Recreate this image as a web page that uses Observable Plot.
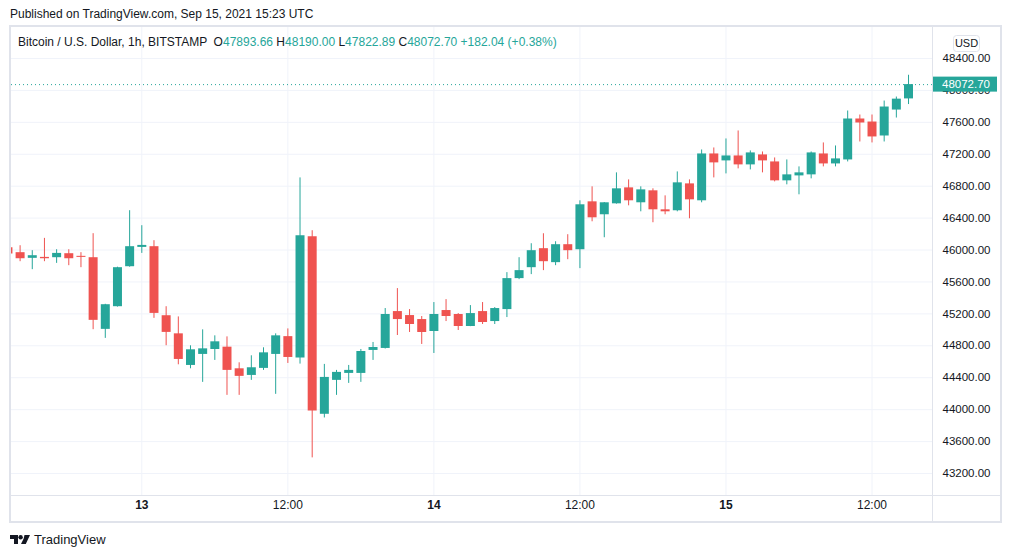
<!DOCTYPE html>
<html><head><meta charset="utf-8">
<script src="https://cdn.jsdelivr.net/npm/d3@7"></script>
<script src="https://cdn.jsdelivr.net/npm/@observablehq/plot@0.6"></script>
<style>
html,body{margin:0;padding:0;background:#fff;}
body{width:1012px;height:558px;position:relative;overflow:hidden;font-family:"Liberation Sans",Arial,sans-serif;color:#131722;}
#pub{position:absolute;left:10px;top:7px;font-size:12px;line-height:14px;white-space:pre;}
#frame{position:absolute;left:9px;top:25px;width:993px;height:498px;border:2px solid #e0e3eb;box-sizing:border-box;}
#chart{position:absolute;left:0;top:0;}
#legend{position:absolute;left:7px;top:8px;font-size:12px;line-height:14px;white-space:pre;}
#legend .v{color:#26a69a;}
#logo{position:absolute;left:10px;top:531px;height:16px;display:flex;align-items:center;font-size:13px;}
#logo svg{margin-right:4px;}
</style></head><body>
<div id="pub">Published on TradingView.com, Sep 15, 2021 15:23 UTC</div>
<div id="frame"><div id="chart"></div><div id="legend"></div></div>
<div id="logo"><svg width="20" height="9" viewBox="0 0 20 9"><path d="M0 0h8v9h-4v-5h-4z" fill="#131722"/><circle cx="10.6" cy="2.2" r="2.2" fill="#131722"/><path d="M14.5 0h5.5l-4.2 9h-4.8l2.6-5.2z" fill="#131722"/></svg><span>TradingView</span></div>
<script>
// ---- data (BTC/USD, 1h candles, BITSTAMP) ----
const firstCandleUTC = Date.UTC(2021, 8, 12, 13); // Sep 12 13:00 UTC
const opens = [46030,45967,45896,45908,45904,45954,45921,45904,45006,45290,45791,
  46033,46042,45177,44950,44554,44692,44754,44783,44512,44429,
  44517,44692,44915,44646,46167,43942,44367,44454,44454,44742,
  44767,45229,45179,45129,44979,45242,45192,45042,45229,45104,
  45254,45642,45779,46017,45842,46067,46004,46604,46442,46579,
  46779,46592,46742,46504,46492,46829,46617,47204,47117,47179,
  47067,47192,47104,46867,46929,46942,47204,47079,47129,47642,
  47604,47429,47754,47893.66];
const highs = [46060,46054,45992,46146,46004,46004,45967,46205,45320,45785,46493,
  46305,46117,45290,45162,44800,45000,44925,44912,44587,44675,
  44775,44950,45012,46904,46242,44567,44492,44554,44754,44842,
  45267,45517,45254,45167,45342,45379,45204,45304,45342,45279,
  45717,45904,46079,46204,46104,46192,46617,46792,46595,46967,
  46879,46792,46767,46679,46979,46879,47254,47279,47392,47492,
  47242,47229,47154,47129,47042,47229,47342,47304,47742,47692,
  47692,47867,47917,48190.00];
const lows = [45930,45854,45754,45854,45833,45804,45779,45002,44893,45285,45785,
  45958,45144,44801,44562,44512,44342,44617,44179,44179,44367,
  44492,44192,44579,44571,43396,43896,44179,44329,44342,44617,
  44760,44929,44967,44817,44704,45104,44992,45040,45067,45067,
  45154,45629,45692,45742,45804,45879,45767,46354,46154,46575,
  46554,46479,46342,46442,46479,46392,46592,46904,46954,47017,
  47004,46967,46854,46817,46692,46892,47042,47042,47104,47354,
  47342,47354,47654,47822.89];
const closes = [45950,45891,45929,45891,45958,45891,45908,45119,45315,45779,46042,
  46058,45206,44968,44629,44750,44762,44850,44492,44417,44525,
  44712,44925,44654,46179,43983,44404,44467,44492,44729,44779,
  45192,45129,45067,44967,45192,45167,45042,45204,45092,45267,
  45642,45742,45992,45854,46067,45992,46567,46404,46592,46767,
  46617,46754,46504,46479,46842,46629,47204,47092,47179,47067,
  47217,47117,46867,46942,46967,47217,47079,47142,47642,47592,
  47417,47792,47890.66,48072.70];
const priceTicks = [43200,43600,44000,44400,44800,45200,45600,46000,46400,46800,47200,47600,48000,48400];
const dayTicks = [Date.UTC(2021,8,13), Date.UTC(2021,8,14), Date.UTC(2021,8,15)];
const noonTicks = [Date.UTC(2021,8,13,12), Date.UTC(2021,8,14,12), Date.UTC(2021,8,15,12)];
const symbolName = "Bitcoin / U.S. Dollar, 1h, BITSTAMP";
const currency = "USD";

// ---- build ----
const HOUR = 3600e3;
const green = "#26a69a", red = "#ef5350", ink = "#131722", gridC = "#f0f3fa", lineC = "#e0e3eb";
const candles = opens.map((o, i) => ({date: new Date(firstCandleUTC + i * HOUR), open: o, high: highs[i], low: lows[i], close: closes[i]}));
const up = candles.filter(d => d.close >= d.open);
const down = candles.filter(d => d.close < d.open);
const last = candles[candles.length - 1];
const prev = candles[candles.length - 2];
const chg = last.close - prev.close;
const t0 = dayTicks[0];

const legend = document.getElementById("legend");
legend.innerHTML = `${symbolName}  O<span class="v">${last.open.toFixed(2)}</span> H<span class="v">${last.high.toFixed(2)}</span> L<span class="v">${last.low.toFixed(2)}</span> C<span class="v">${last.close.toFixed(2)}</span> <span class="v">${chg>=0?"+":""}${chg.toFixed(2)} (${chg>=0?"+":""}${(chg/prev.close*100).toFixed(2)}%)</span>`;

const overlay = (index, scales, values, dims) => {
  const {width, height, marginRight, marginBottom} = dims;
  const xr = width - marginRight, yb = height - marginBottom;
  const g = d3.create("svg:g");
  g.append("line").attr("x1", xr + 0.5).attr("x2", xr + 0.5).attr("y1", 0).attr("y2", height).attr("stroke", lineC);
  g.append("line").attr("x1", 0).attr("x2", width).attr("y1", yb + 0.5).attr("y2", yb + 0.5).attr("stroke", lineC);
  const y = scales.y(last.close);
  g.append("rect").attr("x", xr + 1).attr("y", y - 7.5).attr("width", 64).attr("height", 15).attr("fill", green);
  g.append("text").attr("x", xr + 10).attr("y", y).attr("dy", "0.35em").attr("text-anchor", "start").attr("fill", "#fff").text(last.close.toFixed(2));
  g.append("rect").attr("x", xr + 21.5).attr("y", 8.5).attr("width", 26).attr("height", 16).attr("rx", 3).attr("fill", "#fff").attr("stroke", lineC);
  g.append("text").attr("x", xr + 34.5).attr("y", 16.5).attr("dy", "0.35em").attr("text-anchor", "middle").attr("fill", ink).attr("font-size", 11).text(currency);
  return g.node();
};

const plot = Plot.plot({
  width: 989, height: 494,
  marginLeft: 0, marginRight: 68, marginTop: 0, marginBottom: 26,
  x: {type: "utc", domain: [new Date(t0 - 10.707 * HOUR), new Date(t0 + 64.97 * HOUR)], axis: null},
  y: {domain: [42924.4, 48788.4], axis: null},
  style: {fontFamily: '"Liberation Sans", Arial, sans-serif', fontSize: "11.5px", color: ink, background: "transparent", overflow: "visible"},
  marks: [
    Plot.ruleY(priceTicks, {stroke: gridC, strokeOpacity: 1}),
    Plot.ruleX(dayTicks.concat(noonTicks), {x: d => new Date(d), stroke: gridC, strokeOpacity: 1}),
    Plot.ruleX(up, {x: "date", y1: "low", y2: "high", stroke: green, strokeWidth: 1, clip: true}),
    Plot.ruleX(down, {x: "date", y1: "low", y2: "high", stroke: red, strokeWidth: 1, clip: true}),
    Plot.ruleX(up, {x: "date", y1: "open", y2: "close", stroke: green, strokeWidth: 9, clip: true}),
    Plot.ruleX(down, {x: "date", y1: "open", y2: "close", stroke: red, strokeWidth: 9, clip: true}),
    Plot.ruleY([last.close], {stroke: green, strokeDasharray: "1,3"}),
    Plot.text(priceTicks, {y: d => d, frameAnchor: "right", dx: 10, textAnchor: "start", text: d => d.toFixed(2), fill: ink}),
    Plot.text(dayTicks, {x: d => new Date(d), frameAnchor: "bottom", dy: 13, text: d => String(new Date(d).getUTCDate()), fill: ink, fontWeight: "bold", fontSize: 12}),
    Plot.text(noonTicks, {x: d => new Date(d), frameAnchor: "bottom", dy: 13, text: () => "12:00", fill: ink, fontSize: 12}),
    overlay
  ]
});
document.getElementById("chart").appendChild(plot);
</script>
</body></html>
